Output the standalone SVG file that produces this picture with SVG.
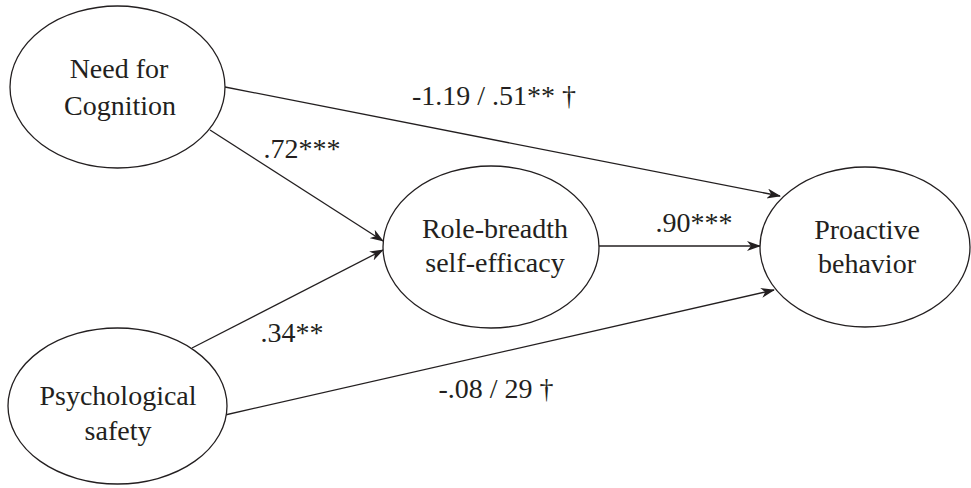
<svg xmlns="http://www.w3.org/2000/svg" width="971" height="488" viewBox="0 0 971 488" font-family="'Liberation Serif', 'Times New Roman', serif">
<style>
.node ellipse{fill:#fff;stroke:#231f20;stroke-width:1.3}
text{font-family:'Liberation Serif','Times New Roman',serif;font-size:28px;fill:#231f20;text-anchor:middle}
.edge line{stroke:#231f20;stroke-width:1.3;marker-end:url(#ah)}
</style>
<defs>
<marker id="ah" markerWidth="14" markerHeight="10" refX="13" refY="5" orient="auto" markerUnits="userSpaceOnUse">
<path d="M0,0 L14,5 L0,10 L4,5 Z" fill="#231f20"/>
</marker>
</defs>
<g id="edges" class="edge">
<line x1="225" y1="87" x2="780" y2="196"/>
<line x1="210" y1="130" x2="383" y2="241"/>
<line x1="192" y1="348" x2="383" y2="250"/>
<line x1="225" y1="415" x2="774" y2="290"/>
<line x1="599" y1="246" x2="760" y2="246"/>
</g>
<g id="nfc" class="node"><ellipse cx="117.5" cy="87" rx="107.5" ry="81"/><text x="119" y="78">Need for</text><text x="120" y="115">Cognition</text></g>
<g id="ps" class="node"><ellipse cx="117.5" cy="406" rx="109.5" ry="78"/><text x="118" y="405">Psychological</text><text x="118" y="440">safety</text></g>
<g id="rbse" class="node"><ellipse cx="491" cy="247" rx="108" ry="81"/><text x="495" y="238">Role-breadth</text><text x="495" y="272">self-efficacy</text></g>
<g id="pb" class="node"><ellipse cx="865" cy="247" rx="105" ry="80"/><text x="867" y="239">Proactive</text><text x="867" y="273">behavior</text></g>
<g id="labels">
<text x="494" y="105">-1.19 / .51** †</text>
<text x="302" y="158">.72***</text>
<text x="292" y="342">.34**</text>
<text x="496" y="398">-.08 / 29 †</text>
<text x="694" y="232">.90***</text>
</g>
</svg>
